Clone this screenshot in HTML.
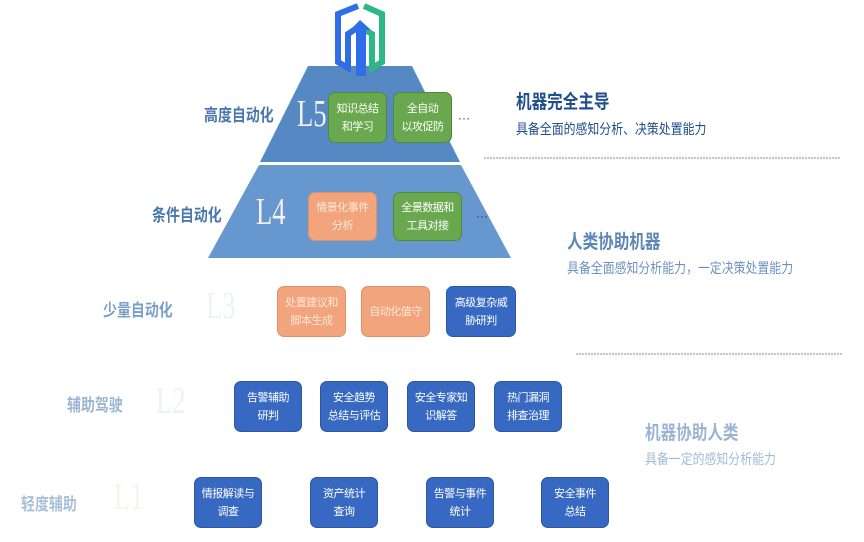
<!DOCTYPE html>
<html><head><meta charset="utf-8"><style>
body{margin:0;width:864px;height:542px;background:#fff;position:relative;overflow:hidden;font-family:"Liberation Sans","Noto Sans CJK SC",sans-serif}
.a{position:absolute;white-space:nowrap;transform:scaleX(.85);transform-origin:left top}
.b{position:absolute;border-radius:7px;color:#fff;font-size:11px;line-height:18px;text-align:center;display:flex;align-items:center;justify-content:center;box-sizing:border-box;padding:0;white-space:nowrap;letter-spacing:-0.5px}
.g{background:#6aa84f;border:1px solid #4f8a3a}
.o{background:#f2a57c;border:1px solid #e0906a;color:#fde6d8}
.u{background:#3869c2;border:1px solid #2c56a3}
.lab{position:absolute;font-weight:bold;font-size:17px;white-space:nowrap;transform:scaleX(.82);transform-origin:left top}
.L{position:absolute;font-family:"Liberation Serif",serif;font-size:38px;transform:scaleX(.7);transform-origin:left top}
</style></head><body>
<svg style="position:absolute;left:0;top:0" width="864" height="542">
<polygon points="308,66 412,66 460,162 260,162" fill="#5688c4"/>
<polygon points="259,165 461,165 511,258 208,258" fill="#6698cf"/>
<line x1="484" y1="158" x2="840" y2="158" stroke="#888" stroke-width="1" stroke-dasharray="2,1"/>
<line x1="576" y1="354" x2="842" y2="354" stroke="#888" stroke-width="1" stroke-dasharray="2,1"/>
<polyline points="358,6 338,14 338,62 348,68 348,34 357,28" fill="none" stroke="#2f6ee6" stroke-width="6"/>
<polyline points="364,6 382,14 382,62 372,68 372,34 365,30" fill="none" stroke="#2fb887" stroke-width="6"/>
<polygon points="360,20 371,30 366,30 366,76 356,76 356,30 350,30" fill="#2f6ee6"/>
<text x="458" y="122" font-size="12" fill="#333">···</text>
<text x="476" y="220" font-size="12" fill="#333">···</text>
</svg>
<div class="L" style="left:297px;top:92px;color:#f2f2f2">L5</div>
<div class="L" style="left:256px;top:190px;color:#f2f2f2">L4</div>
<div class="L" style="left:206px;top:284px;color:#eef2f8">L3</div>
<div class="L" style="left:156px;top:379px;color:#eef2f8">L2</div>
<div class="L" style="left:114px;top:475px;color:#f4f4ee">L1</div>

<div class="lab" style="left:204px;top:101px;color:#4a78ad">高度自动化</div>
<div class="lab" style="left:152px;top:201px;color:#4a78ad">条件自动化</div>
<div class="lab" style="left:103px;top:296px;color:#7aa0c8">少量自动化</div>
<div class="lab" style="left:67px;top:391px;color:#9bb6d2">辅助驾驶</div>
<div class="lab" style="left:21px;top:490px;color:#a9bfd6">轻度辅助</div>

<div class="b g" style="left:328px;top:92px;width:59px;height:51px">知识总结<br>和学习</div>
<div class="b g" style="left:393px;top:92px;width:59px;height:51px">全自动<br>以攻促防</div>
<div class="b o" style="left:308px;top:192px;width:69px;height:49px">情景化事件<br>分析</div>
<div class="b g" style="left:393px;top:192px;width:69px;height:49px">全景数据和<br>工具对接</div>

<div class="b o" style="left:277px;top:286px;width:69px;height:51px">处置建议和<br>脚本生成</div>
<div class="b o" style="left:361px;top:286px;width:69px;height:51px">自动化值守</div>
<div class="b u" style="left:446px;top:286px;width:70px;height:51px">高级复杂威<br>胁研判</div>

<div class="b u" style="left:234px;top:381px;width:68px;height:51px">告警辅助<br>研判</div>
<div class="b u" style="left:320px;top:381px;width:68px;height:51px">安全趋势<br>总结与评估</div>
<div class="b u" style="left:407px;top:381px;width:68px;height:51px">安全专家知<br>识解答</div>
<div class="b u" style="left:494px;top:381px;width:68px;height:51px">热门漏洞<br>排查治理</div>

<div class="b u" style="left:194px;top:477px;width:68px;height:51px">情报解读与<br>调查</div>
<div class="b u" style="left:310px;top:477px;width:68px;height:51px">资产统计<br>查询</div>
<div class="b u" style="left:426px;top:477px;width:68px;height:51px">告警与事件<br>统计</div>
<div class="b u" style="left:541px;top:477px;width:68px;height:51px">安全事件<br>总结</div>

<div class="lab" style="left:516px;top:87px;color:#1f4e8c;font-size:19px">机器完全主导</div>
<div class="a" style="left:516px;top:119px;color:#1f4e8c;font-size:14px">具备全面的感知分析、决策处置能力</div>
<div class="lab" style="left:567px;top:227px;color:#5d86b8;font-size:19px">人类协助机器</div>
<div class="a" style="left:567px;top:258px;color:#6d92c0;font-size:14px">具备全面感知分析能力，一定决策处置能力</div>
<div class="lab" style="left:645px;top:418px;color:#9ab5d4;font-size:19px">机器协助人类</div>
<div class="a" style="left:645px;top:449px;color:#a3bbd6;font-size:14px">具备一定的感知分析能力</div>
</body></html>
